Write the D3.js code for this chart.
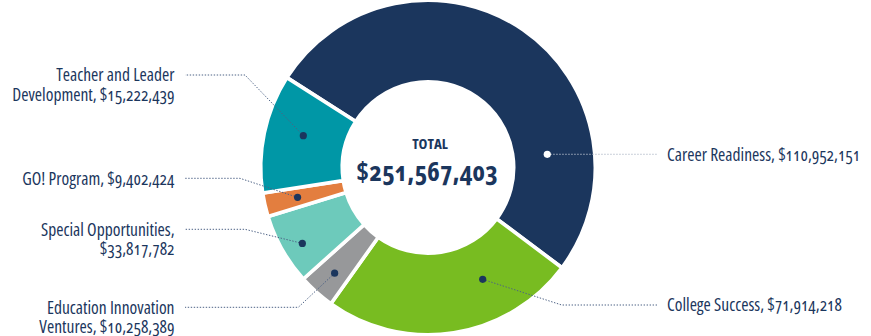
<!DOCTYPE html>
<meta charset="UTF-8">
<head>
  <script src="https://cdnjs.cloudflare.com/ajax/libs/d3/7.8.5/d3.min.js"></script>
</head>
<title>Investment by program</title>
<style>
  body { margin: 0; background: #fff; }
  svg text {
    font-family: "Open Sans", Roboto, sans-serif;
    font-stretch: 82%;
    font-variant-numeric: oldstyle-nums;
    fill: #1b365d;
  }
  .label { font-size: 17.5px; }
  .total-title { font-size: 15px; font-weight: bold; font-stretch: 75%; }
  .total-value { font-size: 27px; font-weight: bold; font-stretch: 75%; }
</style>
<body>
<svg id="chart" width="871" height="336"></svg>

<script>
var programs = ["Career Readiness", "College Success", "Education Innovation Ventures",
                "Special Opportunities", "GO! Program", "Teacher and Leader Development"];
var amounts = [110952151, 71914218, 10258389, 33817782, 9402424, 15222439];
// the ring in the picture is not drawn to scale with the amounts,
// so slice sizes are the degrees
var sliceDegrees = [184.3, 88.7, 12.7, 24.8, 8.2, 41.3];
var colors = ["#1b365d", "#78bc21", "#97989a", "#6dcabb", "#e37e3f", "#0097a6"];

// callouts: where the dot sits in its slice, where the leader bends, where the label breaks
var callouts = [
  { side: "right", along: 0.766, r: 120,   bend: null,          wrap: 0 },
  { side: "right", along: 0.306, r: 124.5, bend: [561.7, 305],  wrap: 0 },
  { side: "left",  along: 0.47,  r: 141,   bend: [298.3, 307.3], wrap: 2 },
  { side: "left",  along: 0.43,  r: 146.8, bend: [245, 229.3],  wrap: 2 },
  { side: "left",  along: 0.5,   r: 133.8, bend: [240, 178.3],  wrap: 0 },
  { side: "left",  along: 0.56,  r: 128.7, bend: [245, 75],     wrap: 3 }
];

var width = 871, height = 336;
var cx = 428, cy = 167.5;
var outerR = 167.3, innerR = 85.7;
var rightLineEnd = 657, rightTextX = 667;
var leftLineEnd = 185, leftTextX = 174.5;
var lineGap = 19.5;
var start = -57.5 * Math.PI / 180;

var fmt = d3.format("$,");
var svg = d3.select("#chart");
var g = svg.append("g").attr("transform", "translate(" + cx + "," + cy + ")");

var pie = d3.pie()
  .value(function(d) { return d; })
  .sort(null)
  .startAngle(start)
  .endAngle(start + 2 * Math.PI);

var arc = d3.arc().innerRadius(innerR).outerRadius(outerR);
var slices = pie(sliceDegrees);

g.selectAll("path.slice")
  .data(slices)
  .enter().append("path")
  .attr("class", "slice")
  .attr("d", arc)
  .attr("fill", function(d, i) { return colors[i]; })
  .attr("stroke", "#fff")
  .attr("stroke-width", 3.6)
  .attr("stroke-linejoin", "miter");

// leaders and dots
slices.forEach(function(s, i) {
  var c = callouts[i];
  var a = s.startAngle + (s.endAngle - s.startAngle) * c.along;
  var p = d3.pointRadial(a, c.r);
  var dot = [cx + p[0], cy + p[1]];
  var bend = c.bend || dot;
  var end = [c.side == "right" ? rightLineEnd : leftLineEnd, bend[1]];
  var light = i == 0;

  svg.append("path")
    .attr("d", d3.line()([dot, bend, end]))
    .attr("fill", "none")
    .attr("stroke", light ? "#b3bcc9" : "#4d6285")
    .attr("stroke-width", 1)
    .attr("stroke-dasharray", "1.4,1.6");

  svg.append("circle")
    .attr("cx", dot[0]).attr("cy", dot[1])
    .attr("r", 3.6)
    .attr("fill", light ? "#fff" : "#1b365d");

  var words = (programs[i] + ", " + fmt(amounts[i])).split(" ");
  var lines = c.wrap ? [words.slice(0, c.wrap).join(" "), words.slice(c.wrap).join(" ")]
                     : [words.join(" ")];
  var t = svg.append("text")
    .attr("class", "label")
    .attr("text-anchor", c.side == "right" ? "start" : "end");
  lines.forEach(function(l, k) {
    t.append("tspan")
      .attr("x", c.side == "right" ? rightTextX : leftTextX)
      .attr("y", bend[1] + k * lineGap)
      .attr("dy", "0.36em")
      .text(l);
  });
});

g.append("text")
  .attr("class", "total-title")
  .attr("text-anchor", "middle")
  .attr("x", 2)
  .attr("y", -23.5)
  .attr("dy", "0.36em")
  .text("TOTAL");

g.append("text")
  .attr("class", "total-value")
  .attr("text-anchor", "middle")
  .attr("x", -1)
  .attr("y", 4)
  .attr("dy", "0.36em")
  .text(fmt(d3.sum(amounts)));
</script>
</body>
</html>
